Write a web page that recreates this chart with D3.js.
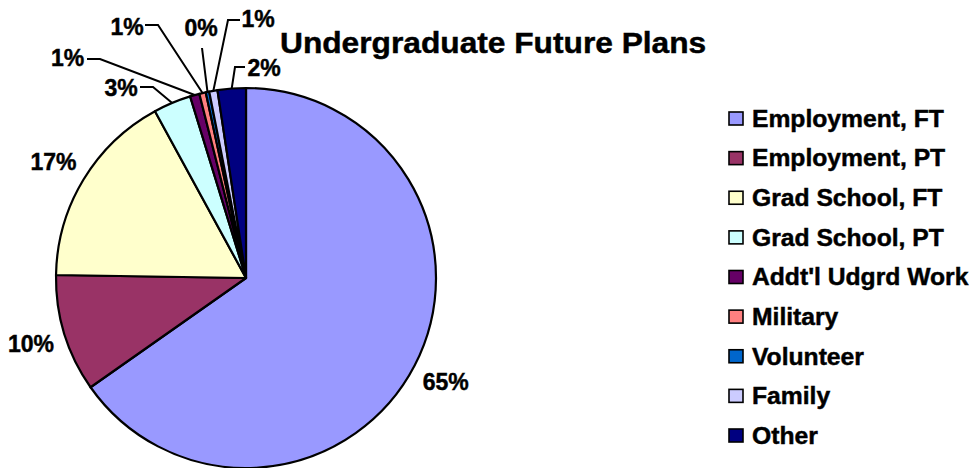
<!DOCTYPE html>
<html>
<head>
<meta charset="utf-8">
<script src="https://cdn.jsdelivr.net/npm/d3@7"></script>
<style>
  html, body { margin: 0; padding: 0; background: #fff; }
  svg { display: block; }
  text { font-family: "Liberation Sans", Arial, sans-serif; font-weight: bold; fill: #000; stroke: #000; stroke-width: 0.45px; }
</style>
</head>
<body>
<svg id="chart" width="974" height="468"></svg>
<script>
// ---- data ----
const categories = ["Employment, FT", "Employment, PT", "Grad School, FT", "Grad School, PT",
  "Addt'l Udgrd Work", "Military", "Volunteer", "Family", "Other"];
const values = [65.25, 10.0, 16.8, 3.2, 0.8, 0.55, 0.3, 0.7, 2.4];
const title = "Undergraduate Future Plans";

// ---- styles / layout ----
const colors = ["#9999FF", "#993366", "#FFFFCC", "#CCFFFF", "#660066", "#FF8080", "#0066CC", "#CCCCFF", "#000080"];
const W = 974, H = 468;
const cx = 246, cy = 278, R = 190;
const labelR = 225;
// manual label placement for small slices
const leaderLayout = {
  3: { tx: 121, ty: 87.5, sx: 140, ex: 153, ey: 87 },
  4: { tx: 67.5, ty: 57.5, sx: 87, ex: 100, ey: 59 },
  5: { tx: 127, ty: 27, sx: 145, ex: 158, ey: 25 },
  6: { tx: 201, ty: 28, sx: 202, ex: 202, ey: 48, vertical: true },
  7: { tx: 258, ty: 19, sx: 240, ex: 228, ey: 20 },
  8: { tx: 264, ty: 67.5, sx: 245, ex: 235, ey: 67 }
};

const svg = d3.select("#chart");
const total = d3.sum(values);
const pie = d3.pie().sort(null).value(d => d).startAngle(0).endAngle(2 * Math.PI);
const arcs = pie(values);
const arc = d3.arc().innerRadius(0).outerRadius(R);
const labelArc = d3.arc().innerRadius(labelR).outerRadius(labelR);
const color = d3.scaleOrdinal().domain(categories).range(colors);

const g = svg.append("g").attr("transform", `translate(${cx},${cy})`);
g.selectAll("path.slice").data(arcs).enter().append("path")
  .attr("class", "slice")
  .attr("d", arc)
  .attr("fill", (d, i) => color(categories[i]))
  .attr("stroke", "#000")
  .attr("stroke-width", 2.2)
  .attr("stroke-linejoin", "round");

const fmt = v => Math.round(v / total * 100) + "%";
const LFS = 23;

arcs.forEach((d, i) => {
  const mid = (d.startAngle + d.endAngle) / 2;
  const lay = leaderLayout[i];
  if (!lay) {
    const [lx, ly] = labelArc.centroid(d);
    svg.append("text")
      .attr("x", cx + lx).attr("y", cy + ly)
      .attr("text-anchor", "middle")
      .attr("dominant-baseline", "central")
      .attr("font-size", LFS)
      .text(fmt(d.value));
  } else {
    const px = cx + R * Math.sin(mid), py = cy - R * Math.cos(mid);
    let pts;
    if (lay.vertical) pts = [[lay.ex, lay.ey], [px, py]];
    else pts = [[lay.sx, lay.ey], [lay.ex, lay.ey], [px, py]];
    svg.append("path")
      .attr("d", d3.line()(pts))
      .attr("fill", "none")
      .attr("stroke", "#000")
      .attr("stroke-width", 2);
    svg.append("text")
      .attr("x", lay.tx).attr("y", lay.ty)
      .attr("text-anchor", "middle")
      .attr("dominant-baseline", "central")
      .attr("font-size", LFS)
      .text(fmt(d.value));
  }
});

// title
svg.append("text")
  .attr("transform", "translate(280,53) scale(1.05,1)")
  .attr("font-size", 30.2)
  .text(title);

// legend
const legY = d3.scaleLinear().domain([0, categories.length - 1]).range([118.5, 435.5]);
const leg = svg.append("g");
categories.forEach((c, i) => {
  leg.append("rect")
    .attr("x", 729).attr("y", legY(i) - 6.5)
    .attr("width", 14).attr("height", 13)
    .attr("fill", color(c))
    .attr("stroke", "#000").attr("stroke-width", 1.6);
  leg.append("text")
    .attr("transform", `translate(752,${legY(i) + 8.3}) scale(1.05,1)`)
    .attr("font-size", 23.5)
    .text(c);
});
</script>
</body>
</html>
